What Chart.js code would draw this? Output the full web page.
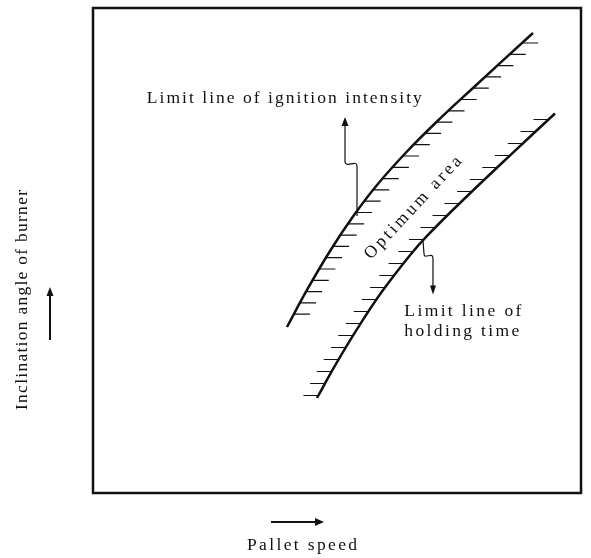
<!DOCTYPE html>
<html>
<head>
<meta charset="utf-8">
<script src="https://cdn.jsdelivr.net/npm/chart.js@4/dist/chart.umd.min.js"></script>
<style>
  html, body { margin: 0; padding: 0; background: #fff; }
  canvas { display: block; }
</style>
</head>
<body>
<canvas id="chart" width="591" height="558"></canvas>
<script>
// curves (x: pallet speed, y: inclination angle, both 0..100)
var upperX = [39.75, 43.85, 48.57, 53.28, 58.20, 64.34, 70.49, 77.87, 90.16];
var upperY = [34.23, 41.86, 49.90, 57.01, 63.51, 70.41, 76.60, 83.51, 94.85];
var lowerX = [45.90, 49.59, 54.30, 59.22, 64.96, 68.65, 75.20, 86.07, 94.67];
var lowerY = [19.59, 26.27, 34.10, 41.53, 49.03, 53.20, 59.79, 70.19, 78.25];

var xTitle = 'Pallet speed';
var yTitle = 'Inclination angle of burner';
var upperLabel = 'Limit line of ignition intensity';
var lowerLabel = ['Limit line of', 'holding time'];
var areaLabel = 'Optimum area';

function toPoints(xs, ys) {
    return xs.map(function(x, i) { return { x: x, y: ys[i] }; });
}

var FONT = '17.5px "Liberation Serif", "DejaVu Serif", serif';

// draw text stretched to a given width (the original is widely letter-spaced)
function spacedText(ctx, str, cx, cy, width, angle) {
    ctx.save();
    ctx.font = FONT;
    ctx.letterSpacing = '0px';
    var w = ctx.measureText(str).width;
    var ls = (width - w) / (str.length - 1);
    ctx.letterSpacing = ls + 'px';
    ctx.translate(cx, cy);
    ctx.rotate(angle || 0);
    ctx.textAlign = 'left';
    ctx.textBaseline = 'middle';
    ctx.fillStyle = '#111';
    ctx.fillText(str, -width / 2, 0);
    ctx.restore();
}

function arrowHead(ctx, x, y, dir) {
    ctx.beginPath();
    if (dir === 'up') {
        ctx.moveTo(x, y); ctx.lineTo(x - 3.5, y + 9); ctx.lineTo(x + 3.5, y + 9);
    } else if (dir === 'down') {
        ctx.moveTo(x, y); ctx.lineTo(x - 3, y - 9); ctx.lineTo(x + 3, y - 9);
    } else {
        ctx.moveTo(x, y); ctx.lineTo(x - 9, y - 4); ctx.lineTo(x - 9, y + 4);
    }
    ctx.closePath();
    ctx.fill();
}

// short horizontal hatch marks along a curve
function hatch(ctx, pts, side, len, step, start) {
    var top = Math.min.apply(null, pts.map(function(p) { return p.y; }));
    var bottom = Math.max.apply(null, pts.map(function(p) { return p.y; }));
    ctx.beginPath();
    for (var y = top + start; y <= bottom - 2; y += step) {
        for (var i = 0; i < pts.length - 1; i++) {
            var a = pts[i], b = pts[i + 1];
            var lo = Math.min(a.y, b.y), hi = Math.max(a.y, b.y);
            if (y >= lo && y <= hi) {
                var t = (y - a.y) / (b.y - a.y);
                var x = a.x + t * (b.x - a.x);
                ctx.moveTo(x, y);
                ctx.lineTo(x + side * len, y);
                break;
            }
        }
    }
    ctx.stroke();
}

var decor = {
    id: 'decor',
    afterDatasetsDraw: function(chart) {
        var ctx = chart.ctx;
        var area = chart.chartArea;
        var xs = chart.scales.x, ys = chart.scales.y;

        ctx.save();
        ctx.strokeStyle = '#111';
        ctx.fillStyle = '#111';

        // frame
        ctx.lineWidth = 2.5;
        ctx.strokeRect(area.left, area.top, area.right - area.left, area.bottom - area.top);

        // hatching
        ctx.lineWidth = 1.2;
        var up = chart.getDatasetMeta(0).data.map(function(p) { return { x: p.x, y: p.y }; });
        var low = chart.getDatasetMeta(1).data.map(function(p) { return { x: p.x, y: p.y }; });
        hatch(ctx, up, 1, 16, 11.3, 10);
        hatch(ctx, low, -1, 15, 12, 6);

        // leader arrow to the upper curve
        var bx = xs.getPixelForValue(54.1), by = ys.getPixelForValue(57.1);
        ctx.lineWidth = 1.2;
        ctx.beginPath();
        ctx.moveTo(bx, by);
        ctx.lineTo(bx, by - 50);
        ctx.bezierCurveTo(bx, by - 57, bx - 12, by - 47, bx - 12, by - 55);
        ctx.lineTo(bx - 12, by - 92);
        ctx.stroke();
        arrowHead(ctx, bx - 12, by - 99, 'up');

        // leader arrow to the lower curve
        var cx = xs.getPixelForValue(67.62), cy = ys.getPixelForValue(52.04);
        ctx.beginPath();
        ctx.moveTo(cx, cy);
        ctx.lineTo(cx + 1, cy + 13);
        ctx.bezierCurveTo(cx + 1, cy + 20, cx + 10, cy + 10, cx + 10, cy + 18);
        ctx.lineTo(cx + 10, cy + 47);
        ctx.stroke();
        arrowHead(ctx, cx + 10, cy + 54, 'down');

        // labels
        spacedText(ctx, upperLabel, xs.getPixelForValue(39.2), ys.getPixelForValue(81.4), 275, 0);
        spacedText(ctx, lowerLabel[0], xs.getPixelForValue(63.9) + 58, ys.getPixelForValue(37.5), 117, 0);
        spacedText(ctx, lowerLabel[1], xs.getPixelForValue(63.9) + 57, ys.getPixelForValue(33.4), 115, 0);
        spacedText(ctx, areaLabel, xs.getPixelForValue(65.6), ys.getPixelForValue(58.8), 134, -47 * Math.PI / 180);

        // axis titles with arrows
        spacedText(ctx, xTitle, (area.left + area.right) / 2 - 35, area.bottom + 52, 110, 0);
        ctx.lineWidth = 2;
        ctx.beginPath();
        ctx.moveTo(271, area.bottom + 29);
        ctx.lineTo(318, area.bottom + 29);
        ctx.stroke();
        arrowHead(ctx, 324, area.bottom + 29, 'right');

        spacedText(ctx, yTitle, 22, 300, 220, -Math.PI / 2);
        ctx.beginPath();
        ctx.moveTo(50, 340);
        ctx.lineTo(50, 294);
        ctx.stroke();
        arrowHead(ctx, 50, 287, 'up');

        ctx.restore();
    }
};

var ctx = document.getElementById('chart').getContext('2d');
var chart = new Chart(ctx, {
    type: 'scatter',
    data: {
        datasets: [{
            label: 'Limit line of ignition intensity',
            data: toPoints(upperX, upperY),
            showLine: true,
            borderColor: '#111',
            borderWidth: 2.5,
            tension: 0.4,
            pointRadius: 0
        }, {
            label: 'Limit line of holding time',
            data: toPoints(lowerX, lowerY),
            showLine: true,
            borderColor: '#111',
            borderWidth: 2.5,
            tension: 0.4,
            pointRadius: 0
        }]
    },
    options: {
        responsive: false,
        animation: false,
        layout: { padding: { left: 93, right: 10, top: 8, bottom: 65 } },
        plugins: {
            legend: { display: false },
            tooltip: { enabled: false }
        },
        scales: {
            x: { type: 'linear', min: 0, max: 100, display: false },
            y: { type: 'linear', min: 0, max: 100, display: false }
        }
    },
    plugins: [decor]
});
</script>
</body>
</html>
